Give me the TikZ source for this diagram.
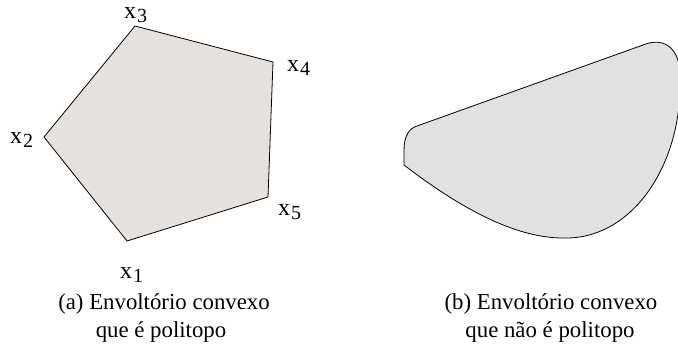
\documentclass[tikz,border=0pt]{standalone}
\usepackage{fontspec}
\setmainfont{Liberation Serif}
\usetikzlibrary{positioning}
\newcommand{\vlabel}[1]{x\kern1pt\raisebox{-4pt}{\fontsize{20}{20}\selectfont #1}}
\definecolor{polyfill}{HTML}{E5E1DE}
\definecolor{hullfill}{HTML}{E1E1E1}
\begin{document}
\begin{tikzpicture}[x=1pt, y=-1pt,
    region/.style={draw, line width=0.8pt, line join=miter},
    vert/.style={inner sep=0pt, anchor=base west, font=\fontsize{24}{24}\selectfont},
    caption/.style={inner sep=0pt, anchor=base, font=\fontsize{22.8}{27}\selectfont}
]
\useasboundingbox (0,0) rectangle (678,345);
\clip (0,0) rectangle (678,345);

% Vertices of the polytope
\coordinate (x1) at (127,241);
\coordinate (x2) at (44,137);
\coordinate (x3) at (135,26);
\coordinate (x4) at (273,62);
\coordinate (x5) at (268,197);

% (a) polytope
\draw[region, fill=polyfill] (x1) -- (x2) -- (x3) -- (x4) -- (x5) -- cycle;
\node[vert] (l1) at (120,278) {\vlabel{1}};
\node[vert] (l2) at (10,143) {\vlabel{2}};
\node[vert] (l3) at (124,19) {\vlabel{3}};
\node[vert] (l4) at (287,72) {\vlabel{4}};
\node[vert] (l5) at (278,215) {\vlabel{5}};
\node[caption] (capa) at (164,309) {(a) Envoltório convexo};
\node[caption] (capa2) at (161,337) {que é politopo};

% (b) convex hull with curved boundary
\coordinate (h1) at (417,126);
\coordinate (h2) at (643,45);
\coordinate (h3) at (563,238);
\coordinate (h4) at (404,165);
\draw[region, fill=hullfill] (h1) -- (h2)
    .. controls (665,36) and (684,48) .. (680,90)
    .. controls (678,170) and (630,240) .. (h3)
    .. controls (515,238) and (460,208) .. (h4)
    -- (404,150) .. controls (404,135) and (410,128) .. (h1) -- cycle;
\node[caption] (capb) at (551,309) {(b) Envoltório convexo};
\node[caption] (capb2) at (550,337) {que não é politopo};

\end{tikzpicture}
\end{document}
